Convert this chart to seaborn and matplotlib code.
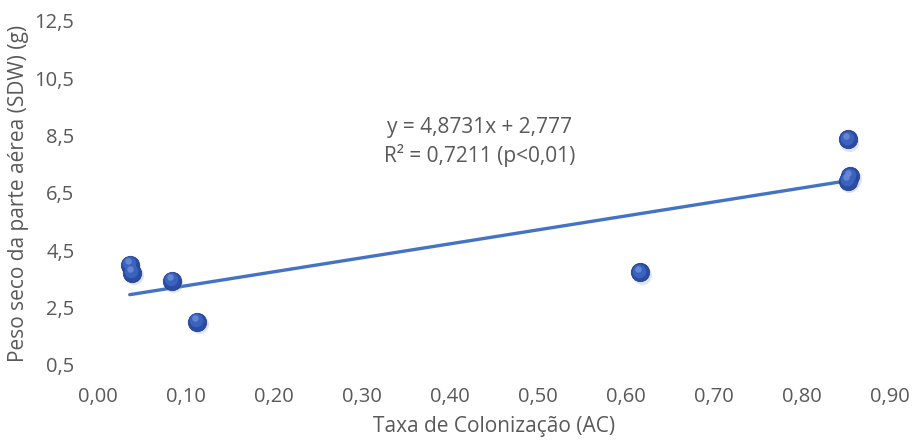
import matplotlib
matplotlib.use("Agg")
import matplotlib.pyplot as plt
from matplotlib.transforms import offset_copy
import numpy as np
import pandas as pd
import seaborn as sns

# Mycorrhizal colonization rate vs shoot dry weight
colonizacao = [0.036, 0.039, 0.084, 0.113, 0.616, 0.852, 0.855, 0.852]
peso_seco = [3.99, 3.71, 3.43, 2.00, 3.74, 8.38, 7.09, 6.92]

# Linear trend reported on the chart
inclinacao = 4.8731
intercepto = 2.777
r2 = 0.7211

x_ticks = [0.0, 0.1, 0.2, 0.3, 0.4, 0.5, 0.6, 0.7, 0.8, 0.9]
y_ticks = [0.5, 2.5, 4.5, 6.5, 8.5, 10.5, 12.5]

df = pd.DataFrame({"AC": colonizacao, "SDW": peso_seco})
xs = np.array([min(colonizacao), max(colonizacao)])
trend = pd.DataFrame({"AC": xs, "SDW": inclinacao * xs + intercepto})

sns.set_theme(style="white")
plt.rcParams["font.family"] = ["Open Sans", "DejaVu Sans"]
text_color = "#595959"

fig = plt.figure(figsize=(9.24, 4.43), dpi=100)
ax = fig.add_axes([0.1061, 0.1761, 0.8571, 0.7765])

sns.lineplot(data=trend, x="AC", y="SDW", ax=ax, color="#4472C4",
             linewidth=2.4, zorder=2)

# shaded balls: soft shadow, dark body, lighter highlight
shadow = offset_copy(ax.transData, fig=fig, x=1.5, y=-2.5, units="dots")
ax.scatter(df["AC"], df["SDW"], s=190, color="#9aa6c8", alpha=0.3,
           linewidths=0, transform=shadow, zorder=3)
sns.scatterplot(data=df, x="AC", y="SDW", ax=ax, s=175, color="#2A4DA3",
                edgecolor="#233f8a", linewidth=0.6, zorder=4)
hl1 = offset_copy(ax.transData, fig=fig, x=-1.0, y=1.5, units="dots")
ax.scatter(df["AC"], df["SDW"], s=95, color="#3A62BE", linewidths=0,
           transform=hl1, zorder=5)
hl2 = offset_copy(ax.transData, fig=fig, x=-2.0, y=3.5, units="dots")
ax.scatter(df["AC"], df["SDW"], s=22, color="#6F90D8", alpha=0.8,
           linewidths=0, transform=hl2, zorder=6)

ax.set_xlim(0.0, 0.9)
ax.set_ylim(0.5, 12.5)
ax.set_xticks(x_ticks)
ax.set_yticks(y_ticks)
ax.set_xticklabels([f"{v:.2f}".replace(".", ",") for v in x_ticks])
ax.set_yticklabels([f"{v:.1f}".replace(".", ",") for v in y_ticks])
ax.tick_params(axis="both", length=0, labelsize=14.5, colors=text_color)
ax.tick_params(axis="x", pad=16)
ax.tick_params(axis="y", pad=17)

ax.set_xlabel("Taxa de Colonização (AC)", fontsize=15, color=text_color, labelpad=6)
ax.set_ylabel("Peso seco da parte aérea (SDW) (g)", fontsize=15,
              color=text_color, labelpad=4)

for s in ax.spines.values():
    s.set_visible(False)
ax.grid(False)

eq = f"y = {inclinacao:.4f}x + {intercepto:.3f}".replace(".", ",")
r2_txt = f"R² = {r2:.4f} (p<0,01)".replace(".", ",")
ax.text(0.434, 8.28, eq + "\n" + r2_txt, ha="center", va="center",
        fontsize=15, color=text_color, linespacing=1.3)

fig.savefig("out.png", dpi=100, facecolor="white")
